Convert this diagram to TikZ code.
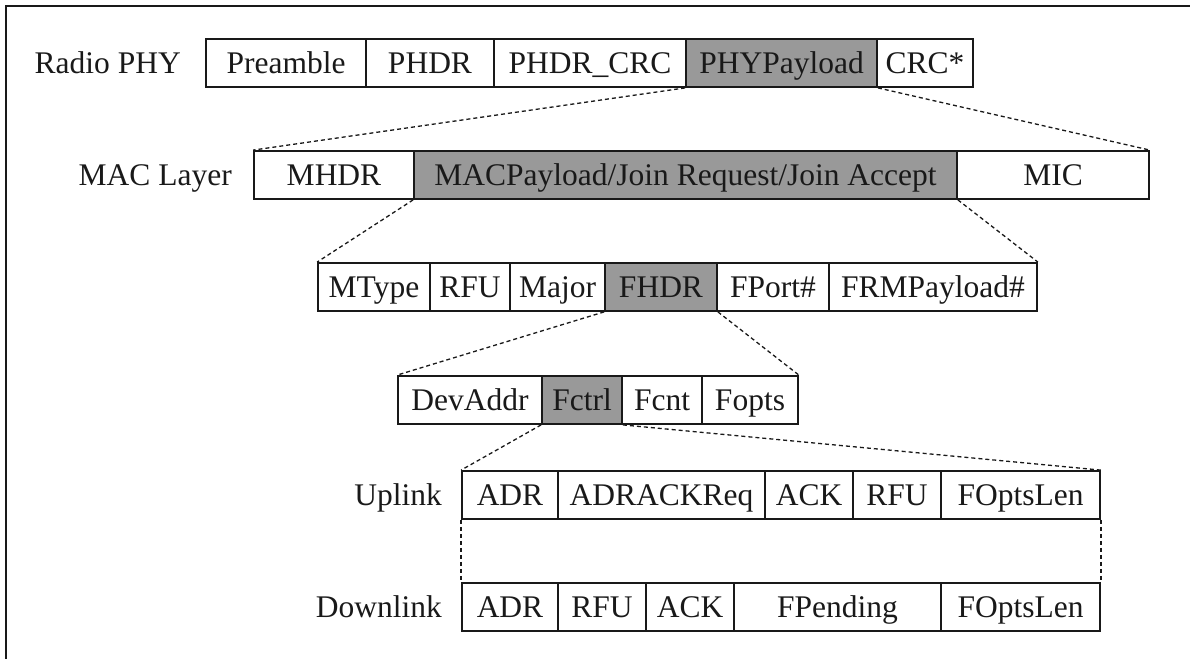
\documentclass[tikz,border=0pt]{standalone}
\usepackage{fontspec}
\setmainfont{Liberation Serif}
\definecolor{cellshade}{RGB}{153,153,153}
\definecolor{inkdark}{RGB}{25,25,25}
\tikzset{
  cell/.style={draw=inkdark, line width=1.8pt, minimum width=#1pt, minimum height=48pt,
    inner sep=0pt, text height=20.8pt, text depth=0pt, text=inkdark,
    font=\fontsize{31.5}{36}\selectfont},
  shaded/.style={cell=#1, fill=cellshade},
  rowlabel/.style={anchor=east, inner sep=0pt, text height=20.8pt, text depth=0pt,
    text=inkdark, font=\fontsize{31.5}{36}\selectfont},
  zoomline/.style={draw=inkdark, line width=1.3pt, dash pattern=on 4pt off 3pt},
  frameline/.style={draw=inkdark, line width=2pt}
}
\begin{document}
\begin{tikzpicture}[x=1pt, y=-1pt]
\useasboundingbox (0,0) rectangle (1190,659);
\draw[frameline] (1190,6) -- (6,6) -- (6,659);

% Radio PHY frame
\node[rowlabel] (lphy) at (181,63) {Radio PHY};
\node[cell=160] (pre) at (286,63) {Preamble};
\node[cell=128] (phdr) at (430,63) {PHDR};
\node[cell=192] (phdrcrc) at (590,63) {PHDR\_CRC};
\node[shaded=191] (phypl) at (781.5,63) {PHYPayload};
\node[cell=96] (crc) at (925,63) {CRC*};

% MAC layer
\node[rowlabel] (lmac) at (232,175) {MAC Layer};
\node[cell=160] (mhdr) at (334,175) {MHDR};
\node[shaded=543] (macpl) at (685.5,175) {MACPayload/Join Request/Join Accept};
\node[cell=192] (mic) at (1053,175) {MIC};

% MAC payload fields
\node[cell=112] (mtype) at (374,287) {MType};
\node[cell=80] (rfu) at (470,287) {RFU};
\node[cell=95] (major) at (557.5,287) {Major};
\node[shaded=112] (fhdr) at (661,287) {FHDR};
\node[cell=112] (fport) at (773,287) {FPort\#};
\node[cell=208] (frm) at (933,287) {FRMPayload\#};

% Frame header fields
\node[cell=144] (devaddr) at (470,400) {DevAddr};
\node[shaded=80] (fctrl) at (582,400) {Fctrl};
\node[cell=80] (fcnt) at (662,400) {Fcnt};
\node[cell=96] (fopts) at (750,400) {Fopts};

% Frame control, uplink
\node[rowlabel] (lup) at (442,495) {Uplink};
\node[cell=96] (uadr) at (510,495) {ADR};
\node[cell=207] (uadrack) at (661.5,495) {ADRACKReq};
\node[cell=88] (uack) at (809,495) {ACK};
\node[cell=88] (urfu) at (897,495) {RFU};
\node[cell=159] (ufol) at (1020.5,495) {FOptsLen};

% Frame control, downlink
\node[rowlabel] (ldown) at (442,607) {Downlink};
\node[cell=96] (dadr) at (510,607) {ADR};
\node[cell=88] (drfu) at (602,607) {RFU};
\node[cell=88] (dack) at (690,607) {ACK};
\node[cell=207] (dpend) at (837.5,607) {FPending};
\node[cell=159] (dfol) at (1020.5,607) {FOptsLen};

% Expansion lines
\draw[zoomline] (phypl.south west) -- (mhdr.north west);
\draw[zoomline] (phypl.south east) -- (mic.north east);
\draw[zoomline] (macpl.south west) -- (mtype.north west);
\draw[zoomline] (macpl.south east) -- (frm.north east);
\draw[zoomline] (fhdr.south west) -- (devaddr.north west);
\draw[zoomline] (fhdr.south east) -- (fopts.north east);
\draw[zoomline] (fctrl.south west) -- (uadr.north west);
\draw[zoomline] (fctrl.south east) -- (ufol.north east);
\draw[zoomline] (uadr.south west) -- (dadr.north west);
\draw[zoomline] (ufol.south east) -- (dfol.north east);
\end{tikzpicture}
\end{document}
